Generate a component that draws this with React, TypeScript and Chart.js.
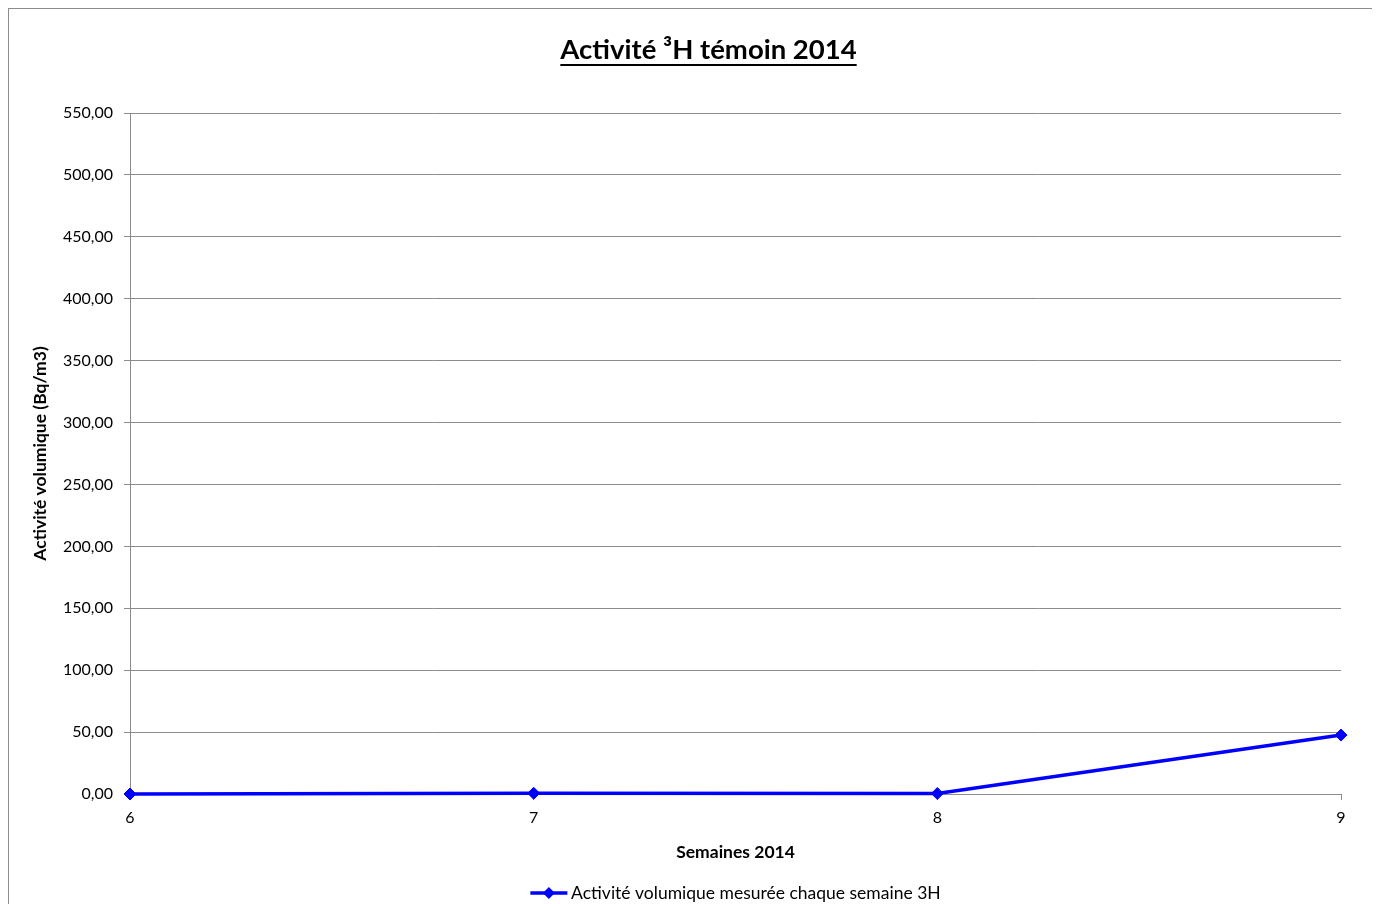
import { useEffect, useRef } from "react";
import { Chart, registerables } from "chart.js";

Chart.register(...registerables);

const TITLE = "Activité ³H témoin 2014";
const X_TITLE = "Semaines 2014";
const Y_TITLE = "Activité volumique (Bq/m3)";
const SERIES_NAME = "Activité volumique mesurée chaque semaine 3H";

const weeks = ["6", "7", "8", "9"];
const activity = [0, 0.6, 0.4, 47.6];

const Y_MIN = 0;
const Y_MAX = 550;
const Y_STEP = 50;

const FONT = "Lato, 'Open Sans', sans-serif";
const BLUE = "#0000FF";
const GRID = "#8c8c8c";

const CANVAS_W = 1372;
const CANVAS_H = 910;

const TITLE_SIZE = 27.5;
const TITLE_PAD_TOP = 24.5;
const TITLE_PAD_BOTTOM = 46.5;
const AXIS_TITLE_SIZE = 17.5;
const LEGEND_SIZE = 17.5;
const LEGEND_BOX_W = 32;
const LEGEND_MARKER_W = 37;

const excelPlugin = {
  id: "excelLook",
  afterLayout(chart: any) {
    const tb = chart.titleBlock;
    if (tb) tb.left += 67;
  },
  afterDraw(chart: any) {
    const ctx = chart.ctx as CanvasRenderingContext2D;
    const tb = chart.titleBlock;
    ctx.save();
    if (tb) {
      ctx.font = `bold ${TITLE_SIZE}px ${FONT}`;
      const w = ctx.measureText(TITLE).width;
      const cx = (tb.left + tb.right) / 2;
      const y = tb.top + TITLE_PAD_TOP + (TITLE_SIZE * 1.2) / 2 + 15;
      ctx.strokeStyle = "#000";
      ctx.lineWidth = 2;
      ctx.beginPath();
      ctx.moveTo(cx - w / 2, y);
      ctx.lineTo(cx + w / 2, y);
      ctx.stroke();
    }
    const lg = chart.legend;
    if (lg && lg.legendHitBoxes && lg.legendHitBoxes[0]) {
      const hb = lg.legendHitBoxes[0];
      const cy = hb.top + hb.height / 2;
      const x0 = hb.left;
      const x1 = hb.left + LEGEND_MARKER_W;
      ctx.strokeStyle = BLUE;
      ctx.lineWidth = 3.5;
      ctx.beginPath();
      ctx.moveTo(x0, cy);
      ctx.lineTo(x1, cy);
      ctx.stroke();
      const mx = (x0 + x1) / 2;
      const r = 6;
      ctx.fillStyle = BLUE;
      ctx.beginPath();
      ctx.moveTo(mx, cy - r);
      ctx.lineTo(mx + r, cy);
      ctx.lineTo(mx, cy + r);
      ctx.lineTo(mx - r, cy);
      ctx.closePath();
      ctx.fill();
    }
    ctx.restore();
  },
};

export default function App() {
  const canvasRef = useRef<HTMLCanvasElement | null>(null);

  useEffect(() => {
    document.body.style.overflow = "hidden";
    document.documentElement.style.overflow = "hidden";
    const canvas = canvasRef.current;
    if (!canvas) return;
    const chart = new Chart(canvas, {
      type: "line",
      data: {
        labels: weeks,
        datasets: [
          {
            label: SERIES_NAME,
            data: activity,
            borderColor: BLUE,
            backgroundColor: BLUE,
            borderWidth: 3.5,
            pointStyle: "rectRot",
            pointRadius: 6,
            pointBackgroundColor: BLUE,
            pointBorderColor: BLUE,
            pointBorderWidth: 1,
            tension: 0,
            clip: false,
          } as any,
        ],
      },
      options: {
        responsive: false,
        animation: false,
        layout: { padding: { left: 0, right: 40, top: 0, bottom: 7.25 } },
        plugins: {
          title: {
            display: true,
            text: TITLE,
            color: "#000",
            font: { family: FONT, size: TITLE_SIZE, weight: "bold" },
            padding: { top: TITLE_PAD_TOP, bottom: TITLE_PAD_BOTTOM },
          },
          legend: {
            display: true,
            position: "bottom",
            fullSize: false,
            labels: {
              boxWidth: LEGEND_BOX_W,
              boxHeight: 10,
              padding: 6,
              color: "#000",
              font: { family: FONT, size: LEGEND_SIZE },
              generateLabels: () => [
                {
                  text: SERIES_NAME,
                  fillStyle: "rgba(0,0,0,0)",
                  strokeStyle: "rgba(0,0,0,0)",
                  lineWidth: 0,
                  hidden: false,
                  datasetIndex: 0,
                  fontColor: "#000",
                } as any,
              ],
            },
          },
          tooltip: { enabled: false },
        },
        scales: {
          x: {
            type: "category",
            offset: false,
            grid: {
              display: true,
              drawOnChartArea: false,
              drawTicks: true,
              tickLength: 6,
              color: GRID,
            },
            border: { color: GRID, width: 1 },
            ticks: {
              color: "#000",
              font: { family: FONT, size: 16 },
              padding: 8,
              maxRotation: 0,
            },
            title: {
              display: true,
              text: X_TITLE,
              color: "#000",
              font: { family: FONT, size: AXIS_TITLE_SIZE, weight: "bold" },
              padding: { top: 0, bottom: 15.5 },
            },
            afterFit: (s: any) => {
              s.height = 84.25;
            },
          },
          y: {
            min: Y_MIN,
            max: Y_MAX,
            grid: {
              color: GRID,
              tickLength: 6,
              drawTicks: true,
            },
            border: { color: GRID, width: 1 },
            ticks: {
              stepSize: Y_STEP,
              color: "#000",
              font: { family: FONT, size: 16 },
              padding: 11,
              callback: (v: any) => Number(v).toFixed(2).replace(".", ","),
            },
            title: {
              display: true,
              text: Y_TITLE,
              color: "#000",
              font: { family: FONT, size: AXIS_TITLE_SIZE, weight: "bold" },
              padding: { top: 20.5, bottom: 0 },
            },
            afterFit: (s: any) => {
              s.width = 121;
            },
          },
        },
      },
      plugins: [excelPlugin],
    });
    return () => chart.destroy();
  }, []);

  return (
    <div
      style={{
        borderTop: "1px solid #8c8c8c",
        borderLeft: "1px solid #8c8c8c",
        borderRight: "none",
        borderBottom: "none",
        width: CANVAS_W,
        height: CANVAS_H,
        background: "#fff",
      }}
    >
      <canvas
        ref={canvasRef}
        width={CANVAS_W}
        height={CANVAS_H}
        style={{ display: "block", width: CANVAS_W, height: CANVAS_H }}
      />
    </div>
  );
}
